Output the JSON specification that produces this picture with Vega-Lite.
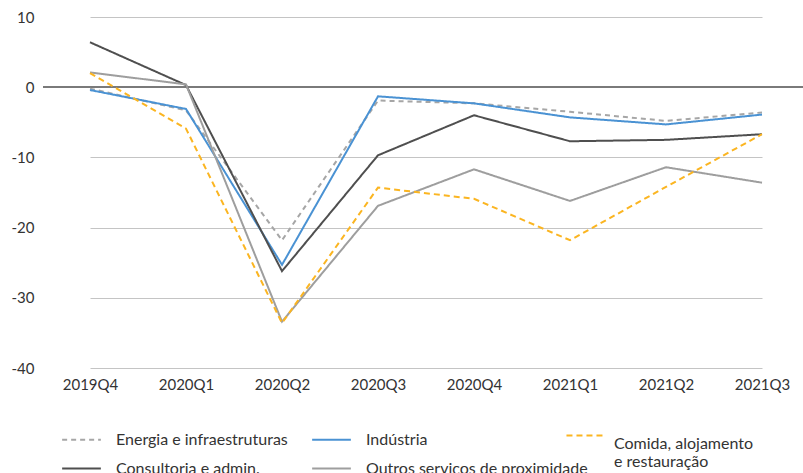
{
  "$schema": "https://vega.github.io/schema/vega-lite/v6.json",
  "autosize": "none",
  "width": 760,
  "height": 351,
  "padding": {"left": 43, "top": 17, "right": 0, "bottom": 105},
  "background": "white",
  "config": {
    "font": "Lato",
    "view": {"stroke": null}
  },
  "data": {
    "values": [
      {"q": "2019Q4", "s": "Energia e infraestruturas", "v": -0.2},
      {"q": "2020Q1", "s": "Energia e infraestruturas", "v": -3.3},
      {"q": "2020Q2", "s": "Energia e infraestruturas", "v": -21.8},
      {"q": "2020Q3", "s": "Energia e infraestruturas", "v": -1.9},
      {"q": "2020Q4", "s": "Energia e infraestruturas", "v": -2.3},
      {"q": "2021Q1", "s": "Energia e infraestruturas", "v": -3.5},
      {"q": "2021Q2", "s": "Energia e infraestruturas", "v": -4.8},
      {"q": "2021Q3", "s": "Energia e infraestruturas", "v": -3.6},
      {"q": "2019Q4", "s": "Indústria", "v": -0.4},
      {"q": "2020Q1", "s": "Indústria", "v": -3.1},
      {"q": "2020Q2", "s": "Indústria", "v": -25.3},
      {"q": "2020Q3", "s": "Indústria", "v": -1.3},
      {"q": "2020Q4", "s": "Indústria", "v": -2.3},
      {"q": "2021Q1", "s": "Indústria", "v": -4.3},
      {"q": "2021Q2", "s": "Indústria", "v": -5.3},
      {"q": "2021Q3", "s": "Indústria", "v": -3.9},
      {"q": "2019Q4", "s": "Comida, alojamento e restauração", "v": 2.0},
      {"q": "2020Q1", "s": "Comida, alojamento e restauração", "v": -5.9},
      {"q": "2020Q2", "s": "Comida, alojamento e restauração", "v": -33.6},
      {"q": "2020Q3", "s": "Comida, alojamento e restauração", "v": -14.3},
      {"q": "2020Q4", "s": "Comida, alojamento e restauração", "v": -15.9},
      {"q": "2021Q1", "s": "Comida, alojamento e restauração", "v": -21.8},
      {"q": "2021Q2", "s": "Comida, alojamento e restauração", "v": -14.2},
      {"q": "2021Q3", "s": "Comida, alojamento e restauração", "v": -6.7},
      {"q": "2019Q4", "s": "Consultoria e admin.", "v": 6.4},
      {"q": "2020Q1", "s": "Consultoria e admin.", "v": 0.3},
      {"q": "2020Q2", "s": "Consultoria e admin.", "v": -26.2},
      {"q": "2020Q3", "s": "Consultoria e admin.", "v": -9.7},
      {"q": "2020Q4", "s": "Consultoria e admin.", "v": -4.0},
      {"q": "2021Q1", "s": "Consultoria e admin.", "v": -7.7},
      {"q": "2021Q2", "s": "Consultoria e admin.", "v": -7.5},
      {"q": "2021Q3", "s": "Consultoria e admin.", "v": -6.7},
      {"q": "2019Q4", "s": "Outros serviços de proximidade", "v": 2.1},
      {"q": "2020Q1", "s": "Outros serviços de proximidade", "v": 0.4},
      {"q": "2020Q2", "s": "Outros serviços de proximidade", "v": -33.4},
      {"q": "2020Q3", "s": "Outros serviços de proximidade", "v": -16.9},
      {"q": "2020Q4", "s": "Outros serviços de proximidade", "v": -11.7},
      {"q": "2021Q1", "s": "Outros serviços de proximidade", "v": -16.2},
      {"q": "2021Q2", "s": "Outros serviços de proximidade", "v": -11.4},
      {"q": "2021Q3", "s": "Outros serviços de proximidade", "v": -13.6}
    ]
  },
  "encoding": {
    "x": {
      "field": "q",
      "type": "ordinal",
      "sort": null,
      "scale": {"type": "point", "range": [47, 719], "padding": 0},
      "axis": {
        "title": null,
        "labelAngle": 0,
        "labelFontSize": 15,
        "labelColor": "#333333",
        "labelPadding": 9,
        "ticks": false,
        "domain": false,
        "grid": false
      }
    },
    "y": {
      "field": "v",
      "type": "quantitative",
      "scale": {"domain": [-40, 10], "nice": false},
      "axis": {
        "title": null,
        "values": [-40, -30, -20, -10, 0, 10],
        "labelExpr": "replace(datum.label, '−', '-')",
        "labelFontSize": 15,
        "labelColor": "#333333",
        "labelPadding": 9,
        "ticks": false,
        "domain": false,
        "grid": true,
        "gridColor": "#c4c4c4",
        "gridWidth": 1
      }
    }
  },
  "layer": [
    {
      "mark": {"type": "rule", "color": "#7a7a7a", "strokeWidth": 1.5},
      "encoding": {"y": {"datum": 0, "type": "quantitative"}, "x": null}
    },
    {
      "transform": [{"filter": "datum.s != 'Comida, alojamento e restauração'"}],
      "mark": {"type": "line", "strokeWidth": 2},
      "encoding": {
        "color": {
          "field": "s",
          "type": "nominal",
          "scale": {
            "domain": ["Energia e infraestruturas", "Indústria", "Consultoria e admin.", "Outros serviços de proximidade"],
            "range": ["#a6a6a6", "#4a92d3", "#4f4f4f", "#9e9e9e"]
          },
          "legend": {
            "title": null,
            "orient": "none",
            "legendX": 18,
            "legendY": 402,
            "direction": "horizontal",
            "columns": 2,
            "columnPadding": 20,
            "rowPadding": -10,
            "symbolType": "stroke",
            "symbolSize": 1500,
            "symbolStrokeWidth": 2,
            "labelFontSize": 16,
            "labelColor": "#333333",
            "labelOffset": 14,
            "labelLimit": 400
          }
        },
        "strokeDash": {
          "field": "s",
          "type": "nominal",
          "scale": {
            "domain": ["Energia e infraestruturas", "Indústria", "Consultoria e admin.", "Outros serviços de proximidade"],
            "range": [[5, 4], [1, 0], [1, 0], [1, 0]]
          },
          "legend": null
        }
      }
    },
    {
      "transform": [{"filter": "datum.s == 'Comida, alojamento e restauração'"}],
      "mark": {"type": "line", "strokeWidth": 2, "color": "#fbb521"},
      "encoding": {
        "opacity": {
          "field": "s",
          "type": "nominal",
          "scale": {"domain": ["Comida, alojamento e restauração"], "range": [1]},
          "legend": {
            "title": null,
            "orient": "none",
            "legendX": 522,
            "legendY": 399,
            "symbolType": "stroke",
            "symbolSize": 1300,
            "symbolStrokeWidth": 2,
            "symbolStrokeColor": "#fbb521",
            "symbolDash": [6, 4],
            "labelFontSize": 16,
            "labelColor": "#333333",
            "labelOffset": 10,
            "labelLimit": 400,
            "labelBaseline": "top",
            "labelExpr": "['Comida, alojamento', 'e restauração']"
          }
        },
        "strokeDash": {"value": [6, 4]}
      }
    }
  ],
  "resolve": {"scale": {"opacity": "independent"}}
}
